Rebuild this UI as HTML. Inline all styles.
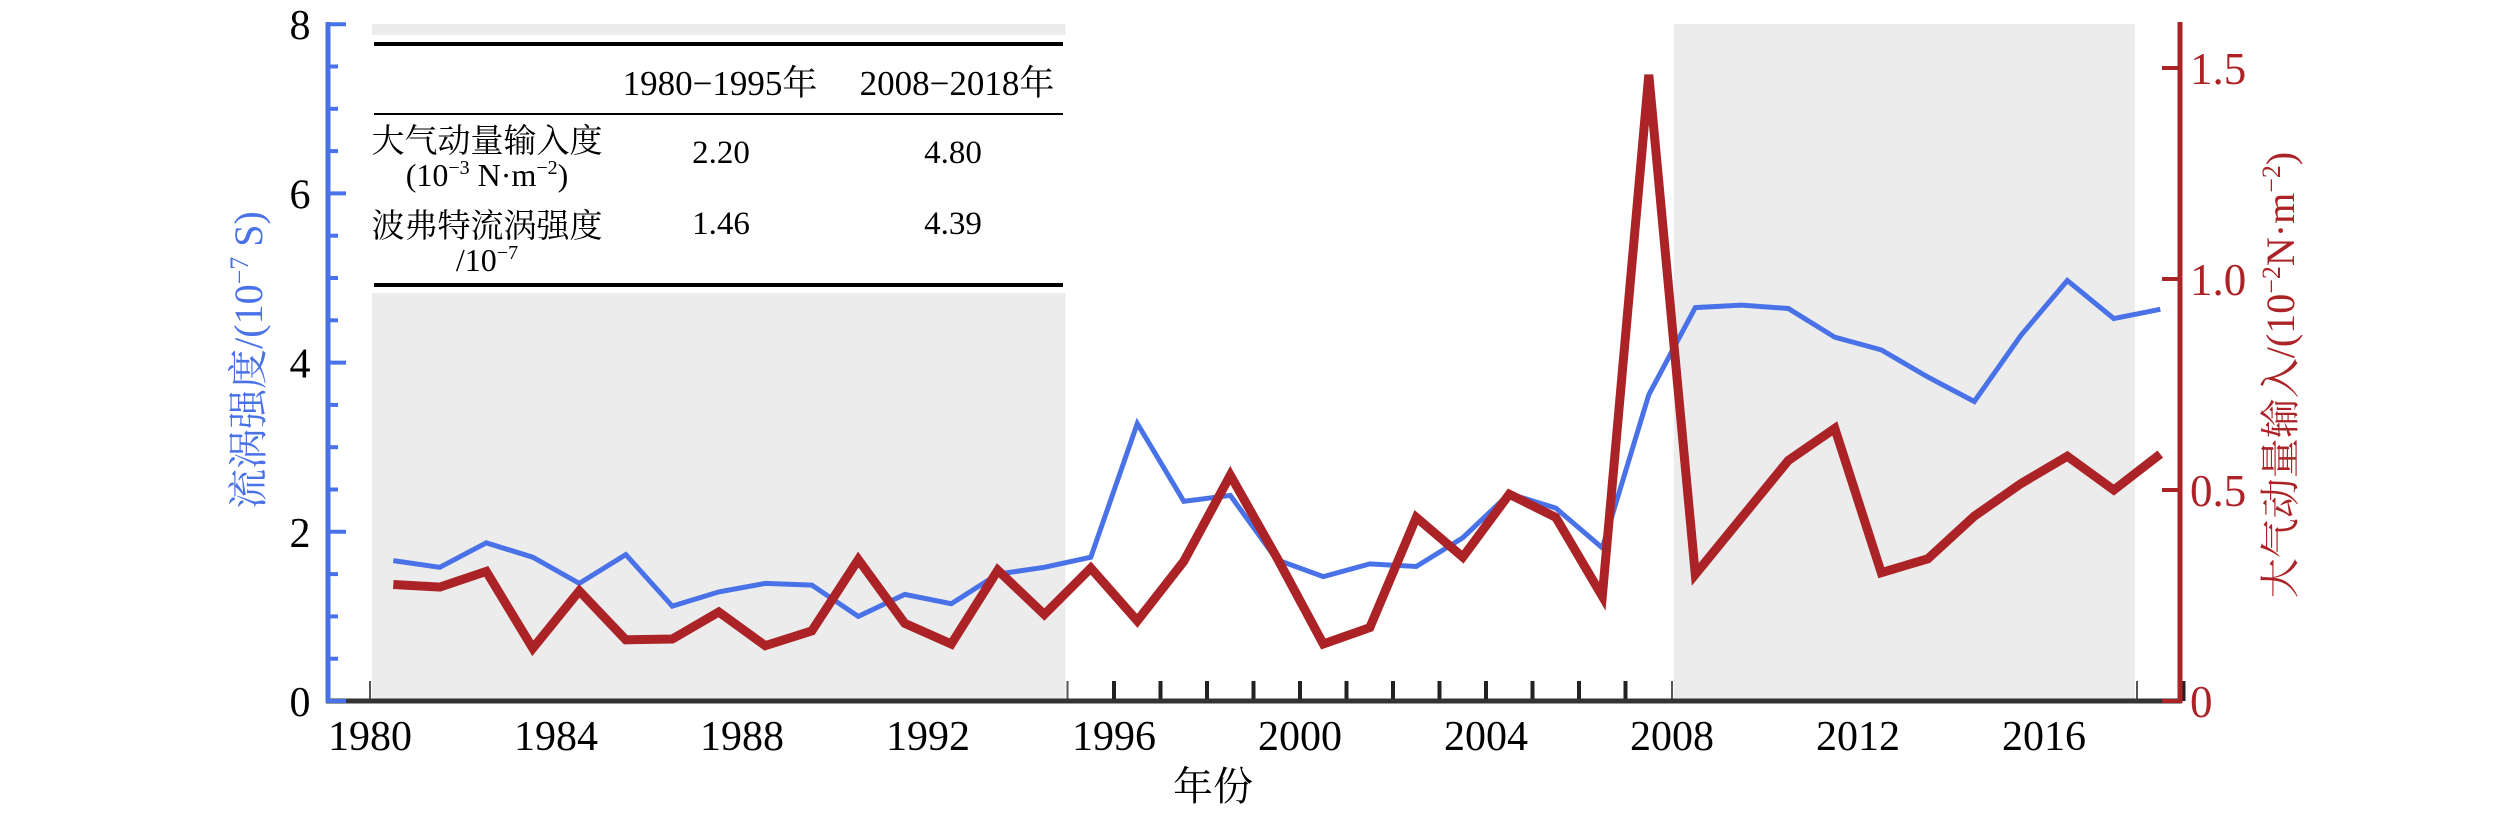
<!DOCTYPE html>
<html><head><meta charset="utf-8">
<style>
html,body{margin:0;padding:0;background:#fff;}
svg{display:block;}
text{font-family:"Liberation Serif","Noto Serif CJK SC","Noto Sans CJK SC",serif;}
</style></head>
<body>
<svg id="chart" width="2520" height="814" viewBox="0 0 2520 814" xmlns="http://www.w3.org/2000/svg"></svg>
<script>
const years = [1980,1981,1982,1983,1984,1985,1986,1987,1988,1989,1990,1991,1992,1993,1994,1995,1996,1997,1998,1999,2000,2001,2002,2003,2004,2005,2006,2007,2008,2009,2010,2011,2012,2013,2014,2015,2016,2017,2018];
const gyreStrength = [1.66,1.58,1.87,1.70,1.39,1.73,1.12,1.29,1.39,1.37,1.00,1.26,1.15,1.50,1.58,1.70,3.28,2.36,2.43,1.67,1.47,1.62,1.59,1.93,2.45,2.28,1.81,3.62,4.65,4.68,4.64,4.30,4.15,3.83,3.54,4.32,4.97,4.52,4.63];
const momentumInput = [0.276,0.27,0.307,0.125,0.261,0.145,0.147,0.211,0.131,0.166,0.335,0.184,0.135,0.31,0.205,0.315,0.19,0.331,0.535,0.34,0.135,0.174,0.435,0.341,0.49,0.435,0.248,1.484,0.30,0.435,0.57,0.646,0.304,0.337,0.438,0.515,0.58,0.50,0.585];
const xTickLabels = [1980,1984,1988,1992,1996,2000,2004,2008,2012,2016];
const leftTicks = [0,2,4,6,8];
const rightTicks = ["0","0.5","1.0","1.5"];

const NS="http://www.w3.org/2000/svg";
const svg=document.getElementById('chart');
function el(tag,attrs,parent){const e=document.createElementNS(NS,tag);for(const k in attrs)e.setAttribute(k,attrs[k]);(parent||svg).appendChild(e);return e;}
const X=yr=>370+46.5*(yr-1980);
const YL=v=>701-v*84.6;
const YR=v=>701-v*422;

// x ticks
const xt=el('g',{});


for(let y=1980;y<=2019;y++){
  if((y>1980&&y<1995)||(y>2008&&y<2018)) continue;
  const edge=(y===1980||y===1995||y===2008||y===2018);
  const t=el('line',{x1:X(y),x2:X(y),y1:701,y2:681,stroke:edge?'#555':'#222','stroke-width':edge?2:4},xt);
  
  
}
// shading
const s1=el('rect',{x:X(1980)+2,y:293,width:X(1995)-X(1980)-4,height:406,fill:'#ececec'});


const s1b=el('rect',{x:X(1980)+2,y:24,width:X(1995)-X(1980)-4,height:11,fill:'#ececec'});


const s2=el('rect',{x:X(2008)+2,y:24,width:X(2018)-X(2008)-4,height:675,fill:'#ececec'});



// table
const tb=el('g',{});


[[44,4],[114,2],[285,4]].forEach(([y,w])=>{const l=el('line',{x1:374,x2:1063,y1:y,y2:y,stroke:'#000','stroke-width':w},tb);});
function txt(x,y,s,size,anchor,fill,parent,name){const t=el('text',{x:x,y:y,'font-size':size,'text-anchor':anchor||'middle',fill:fill||'#000'},parent||svg);t.innerHTML=s;return t;}
txt(720,95,'1980−1995年',35,'middle','#000',tb,'header-1980-1995');
txt(957,95,'2008−2018年',35,'middle','#000',tb,'header-2008-2018');
txt(487,152,'大气动量输入度',33,'middle','#000',tb,'row-momentum-label');
txt(487,186,'(10<tspan font-size="20" dy="-12">−3</tspan><tspan dy="12"> N·m</tspan><tspan font-size="20" dy="-12">−2</tspan><tspan dy="12">)</tspan>',32,'middle','#000',tb,'row-momentum-unit');
txt(721,163,'2.20',33,'middle','#000',tb,'value-momentum-1');
txt(953,163,'4.80',33,'middle','#000',tb,'value-momentum-2');
txt(487,237,'波弗特流涡强度',33,'middle','#000',tb,'row-gyre-label');
txt(487,271,'/10<tspan font-size="20" dy="-12">−7</tspan>',32,'middle','#000',tb,'row-gyre-unit');
txt(721,234,'1.46',33,'middle','#000',tb,'value-gyre-1');
txt(953,234,'4.39',33,'middle','#000',tb,'value-gyre-2');

// series
function line(vals,Y,color,w,name){
  const d=vals.map((v,i)=>(i?'L':'M')+X(years[i]+0.5).toFixed(1)+','+Y(v).toFixed(1)).join(' ');
  const p=el('path',{d:d,fill:'none',stroke:color,'stroke-width':w,'stroke-linejoin':'miter'});
  
  
}
line(gyreStrength,YL,'#4a72e8',5,'gyre-strength-line');
line(momentumInput,YR,'#ac2327',9,'momentum-input-line');

// x axis
const xa=el('line',{x1:326,x2:2182,y1:701,y2:701,stroke:'#333','stroke-width':5});


xTickLabels.forEach(y=>{txt(X(y),750,y,42,'middle','#000',svg,'x-tick-label');});
txt(1213,800,'年份',40,'middle','#000',svg,'x-axis-title');

// left axis
const la=el('line',{x1:328,x2:328,y1:22,y2:703,stroke:'#4a72e8','stroke-width':5});


for(let v=0;v<=8;v+=0.5){
  const major=Number.isInteger(v)&&v%2===0;
  const t=el('line',{x1:328,x2:major?346:338,y1:YL(v),y2:YL(v),stroke:'#4a72e8','stroke-width':4});
  
  
}
leftTicks.forEach(v=>txt(300,YL(v)+15,v,42,'middle','#000',svg,'left-tick-label'));
const lt=txt(0,0,'流涡强度/(10<tspan font-size="26" dy="-14">−7</tspan><tspan dy="14"> S)</tspan>',40,'middle','#4a72e8',svg,'left-y-axis-title');
lt.setAttribute('transform','translate(262,360) rotate(-90)');

// right axis
const ra=el('line',{x1:2180,x2:2180,y1:22,y2:703,stroke:'#ac2327','stroke-width':5});


rightTicks.forEach(s=>{
  const v=parseFloat(s);
  const t=el('line',{x1:2162,x2:2180,y1:YR(v),y2:YR(v),stroke:'#ac2327','stroke-width':4});
  
  
  txt(2190,YR(v)+16,s,45,'start','#ac2327',svg,'right-tick-label');
});
const rt=txt(0,0,'大气动量输入/(10<tspan font-size="26" dy="-14">−2</tspan><tspan dy="14">N·m</tspan><tspan font-size="26" dy="-14">−2</tspan><tspan dy="14">)</tspan>',40,'middle','#ac2327',svg,'right-y-axis-title');
rt.setAttribute('transform','translate(2294,375) rotate(-90)');
</script>
</body></html>
